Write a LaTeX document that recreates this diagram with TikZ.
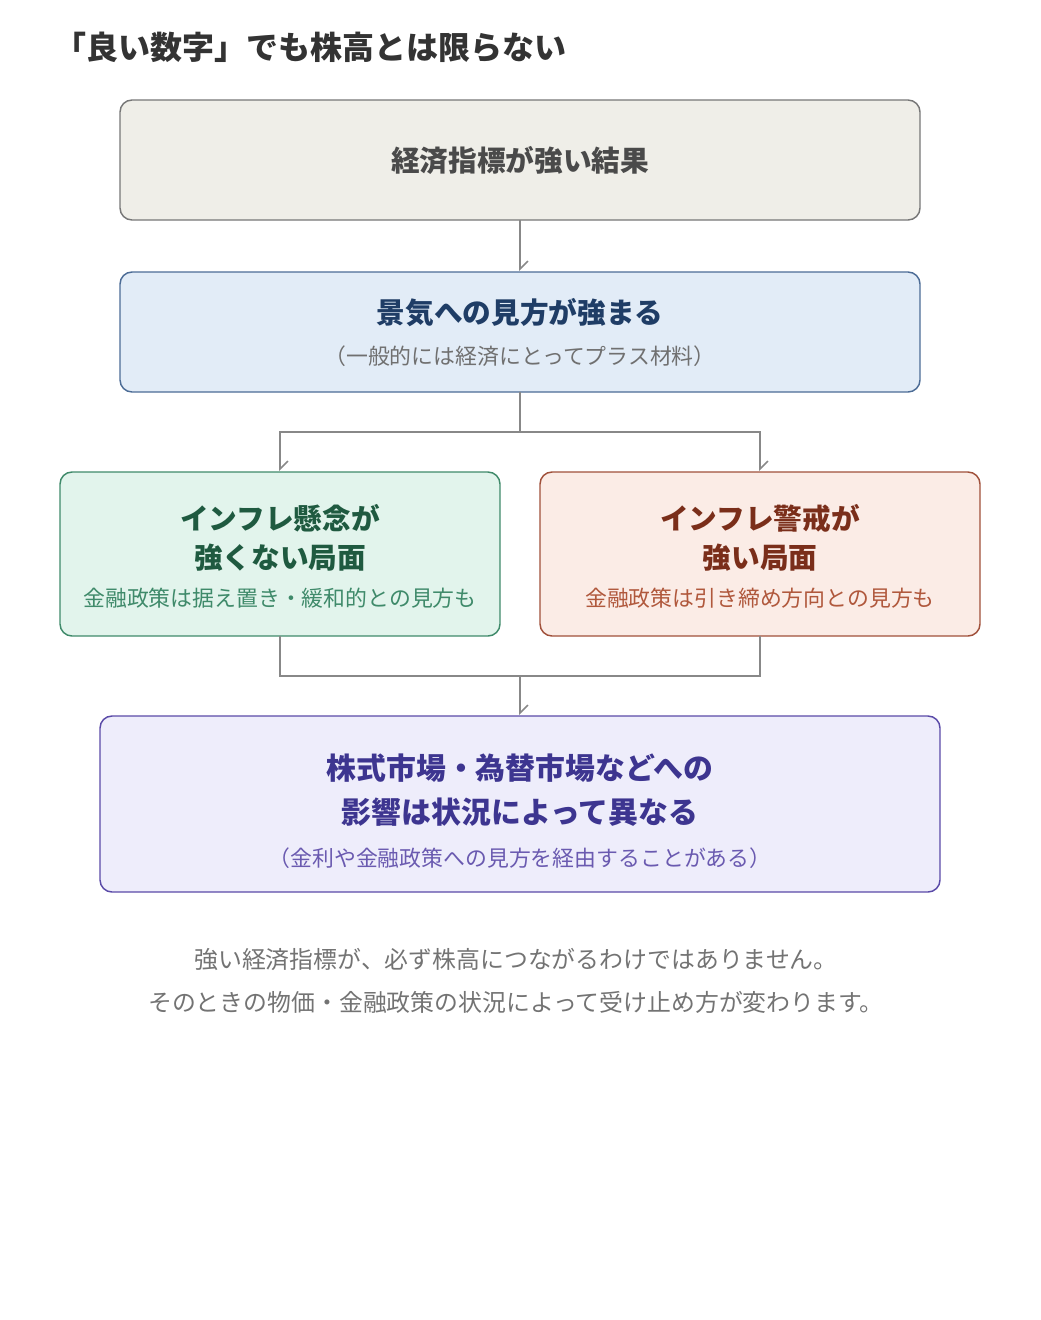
\documentclass[tikz,border=0pt]{standalone}
\usepackage{fontspec}
\setmainfont{Noto Sans CJK JP}
\usetikzlibrary{arrows.meta}
\definecolor{ln}{HTML}{888888}
\definecolor{f1}{HTML}{EFEEE8}\definecolor{d1}{HTML}{777777}\definecolor{t1}{HTML}{4A4A4A}
\definecolor{f2}{HTML}{E2ECF7}\definecolor{d2}{HTML}{4C6C96}\definecolor{t2}{HTML}{1F3D66}\definecolor{s2}{HTML}{707070}
\definecolor{f3}{HTML}{E2F4EC}\definecolor{d3}{HTML}{3F8A6A}\definecolor{t3}{HTML}{1F5A40}\definecolor{s3}{HTML}{3F8A6A}
\definecolor{f4}{HTML}{FBECE6}\definecolor{d4}{HTML}{A0503A}\definecolor{t4}{HTML}{7A2E1A}\definecolor{s4}{HTML}{B0583C}
\definecolor{f5}{HTML}{EEEDFB}\definecolor{d5}{HTML}{5A4AA8}\definecolor{t5}{HTML}{3D3590}\definecolor{s5}{HTML}{6A5AB0}
\begin{document}
\begin{tikzpicture}[x=0.75pt,y=-0.75pt,
 box/.style={rounded corners=9pt,line width=1.1pt},
 con/.style={draw=ln,line width=1.8pt},
 arr/.style={con,-{Straight Barb[harpoon,length=6pt,width=12pt,line width=1.2pt]}},
 hd/.style={font=\bfseries\fontsize{21.5}{29}\selectfont,align=center},
 sb/.style={font=\fontsize{16.4}{20}\selectfont}]
\useasboundingbox (0,0) rectangle (1040,1320);
\node[anchor=west,font=\bfseries\fontsize{24}{28}\selectfont,text=black!80] (title) at (50,47) {「良い数字」でも株高とは限らない};
\draw[box,draw=d1,fill=f1] (120,100) rectangle (920,220);
\node[hd,text=t1] (b1) at (520,160) {経済指標が強い結果};
\draw[box,draw=d2,fill=f2] (120,272) rectangle (920,392);
\node[hd,text=t2] (b2) at (520,313) {景気への見方が強まる};
\node[sb,text=s2] (b2s) at (520,356) {（一般的には経済にとってプラス材料）};
\draw[box,draw=d3,fill=f3] (60,472) rectangle (500,636);
\node[hd,text=t3] (b3) at (280,538) {インフレ懸念が\\強くない局面};
\node[sb,text=s3] (b3s) at (280,598) {金融政策は据え置き・緩和的との見方も};
\draw[box,draw=d4,fill=f4] (540,472) rectangle (980,636);
\node[hd,text=t4] (b4) at (760,538) {インフレ警戒が\\強い局面};
\node[sb,text=s4] (b4s) at (760,598) {金融政策は引き締め方向との見方も};
\draw[box,draw=d5,fill=f5] (100,716) rectangle (940,892);
\node[hd,font=\bfseries\fontsize{22.4}{33}\selectfont,text=t5] (b5) at (520,790) {株式市場・為替市場などへの\\影響は状況によって異なる};
\node[sb,text=s5] (b5s) at (520,858) {（金利や金融政策への見方を経由することがある）};
\node[font=\fontsize{17.9}{32}\selectfont,text=black!55,align=center] (foot) at (516,981) {強い経済指標が、必ず株高につながるわけではありません。\\そのときの物価・金融政策の状況によって受け止め方が変わります。};
\draw[arr] (520,220) -- (520,271);
\draw[con] (520,392) -- (520,432) (280,432) -- (760,432);
\draw[arr] (280,431) -- (280,471);
\draw[arr] (760,431) -- (760,471);
\draw[con] (280,636) -- (280,676) -- (760,676) -- (760,636);
\draw[arr] (520,676) -- (520,715);
\end{tikzpicture}
\end{document}
